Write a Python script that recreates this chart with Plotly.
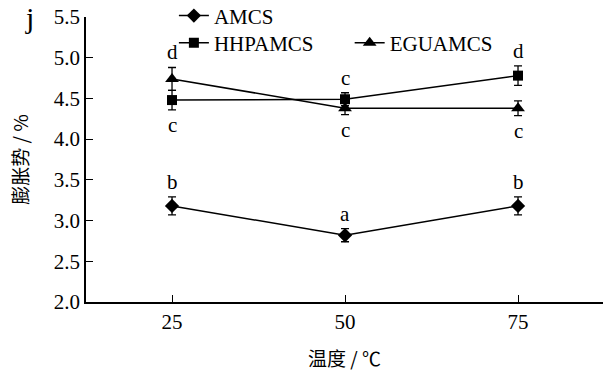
import plotly.graph_objects as go

temps = [25, 50, 75]
amcs = [3.18, 2.82, 3.18]
amcs_err = [0.11, 0.08, 0.11]
hhp = [4.48, 4.49, 4.78]
hhp_err = [0.12, 0.08, 0.12]
egu = [4.74, 4.38, 4.38]
egu_err = [0.14, 0.08, 0.09]

amcs_letters = ["b", "a", "b"]
hhp_letters = ["c", "c", "d"]
hhp_above = [False, True, True]
egu_letters = ["d", "c", "c"]
egu_above = [True, False, False]

serif = "Liberation Serif, Times New Roman, serif"

fig = go.Figure()

def add(name, y, err, symbol, size, legend):
    fig.add_trace(go.Scatter(
        x=temps, y=y, name=name, mode="lines+markers",
        line=dict(color="black", width=1.5),
        marker=dict(symbol=symbol, size=size, color="black"),
        error_y=dict(type="data", array=err, color="black", thickness=1.3, width=4),
        legend=legend,
    ))

add("AMCS", amcs, amcs_err, "diamond", 11, "legend")
add("HHPAMCS", hhp, hhp_err, "square", 10, "legend2")
add("EGUAMCS", egu, egu_err, "triangle-up", 12, "legend3")

anns = []
def letters(vals, errs, labs, above):
    for x, v, e, t, a in zip(temps, vals, errs, labs, above):
        anns.append(dict(
            x=x, y=v + e if a else v - e, text=t, showarrow=False,
            xref="x", yref="y", yanchor="bottom" if a else "top",
            yshift=1 if a else -1,
            font=dict(family=serif, size=21, color="black"),
        ))

letters(amcs, amcs_err, amcs_letters, [True] * 3)
letters(hhp, hhp_err, hhp_letters, hhp_above)
letters(egu, egu_err, egu_letters, egu_above)

anns.append(dict(x=-0.122, y=1.0, xref="paper", yref="paper", text="j",
                 showarrow=False, xanchor="left", yanchor="middle",
                 font=dict(family=serif, size=30, color="black")))

leg = dict(xanchor="left", yanchor="middle", yref="container",
           bgcolor="rgba(0,0,0,0)",
           font=dict(family=serif, size=21), itemwidth=30)

fig.update_layout(
    width=603, height=371,
    margin=dict(l=86, r=0, t=17, b=69, autoexpand=False),
    paper_bgcolor="white", plot_bgcolor="white",
    font=dict(family=serif, size=21, color="black"),
    annotations=anns,
    showlegend=True,
    legend=dict(x=0.17, y=0.957, **leg),
    legend2=dict(x=0.17, y=0.884, **leg),
    legend3=dict(x=0.51, y=0.884, **leg),
    xaxis=dict(range=[12.57, 87.28], tickvals=temps, ticktext=[str(t) for t in temps],
               showline=True, linecolor="black", linewidth=1.5,
               ticks="inside", ticklen=7, tickwidth=1.3, tickcolor="black",
               showgrid=False, zeroline=False,
               title=dict(text="温度 / ℃", font=dict(family="Noto Sans CJK SC", size=19),
                          standoff=20)),
    yaxis=dict(range=[2.0, 5.5], tickvals=[2.0, 2.5, 3.0, 3.5, 4.0, 4.5, 5.0, 5.5],
               tickformat=".1f",
               showline=True, linecolor="black", linewidth=1.5,
               ticks="inside", ticklen=7, tickwidth=1.3, tickcolor="black",
               showgrid=False, zeroline=False,
               title=dict(text="膨胀势 / %", font=dict(family="Noto Sans CJK SC", size=19),
                          standoff=20)),
)

fig.write_html("out.html")
